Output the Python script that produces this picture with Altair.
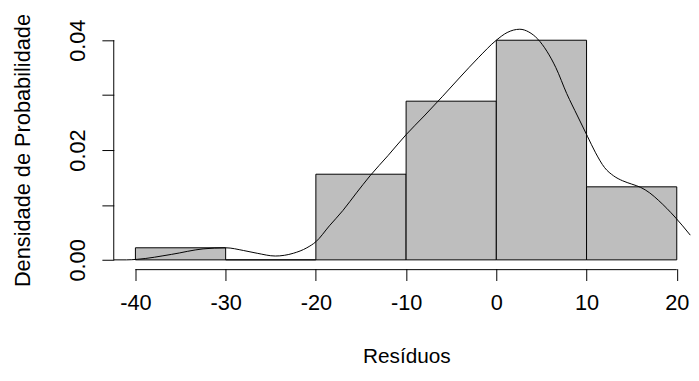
import altair as alt
import pandas as pd

# Histogram bins (Resíduos) and probability densities
bin_start = [-40, -30, -20, -10, 0, 10]
bin_end = [-30, -20, -10, 0, 10, 20]
density = [0.0022, 0.0, 0.0156, 0.0289, 0.0400, 0.0133]

# Kernel density curve
curve_x = [-42.4, -41.0, -39.8, -36.0, -32.5, -30.0, -28.0, -26.5, -24.5, -22.5,
           -21.0, -20.0, -18.5, -17.0, -15.5, -14.0, -12.0, -10.0, -8.0, -6.0,
           -4.0, -2.0, 0.0, 1.2, 2.6, 3.6, 4.6, 5.6, 6.6, 7.8, 9.0, 10.1,
           11.0, 12.0, 13.0, 14.0, 15.0, 16.0, 17.0, 18.0, 19.8, 21.5]
curve_y = [0.0000, 0.0000, 0.0001, 0.0010, 0.0020, 0.0022, 0.0017, 0.0012, 0.0007, 0.0012,
           0.0022, 0.0033, 0.0062, 0.0090, 0.0122, 0.0153, 0.0190, 0.0228, 0.0262, 0.0297,
           0.0333, 0.0368, 0.0400, 0.0414, 0.0420, 0.0415, 0.0402, 0.0380, 0.0350, 0.0303, 0.0262, 0.0225,
           0.0195, 0.0168, 0.0153, 0.0144, 0.0138, 0.0132, 0.0122, 0.0108, 0.0078, 0.0045]

x_ticks = [-40, -30, -20, -10, 0, 10, 20]
y_ticks = [0.0, 0.01, 0.02, 0.03, 0.04]

FONT = "Liberation Sans"
W, H = 576, 240

bars_df = pd.DataFrame({"start": bin_start, "end": bin_end, "density": density,
                        "base": [0.0] * len(bin_start)})
curve_df = pd.DataFrame({"x": curve_x, "y": curve_y})
xaxis_df = pd.DataFrame({"a": [x_ticks[0]], "b": [x_ticks[-1]]})
yaxis_df = pd.DataFrame({"a": [y_ticks[0]], "b": [y_ticks[-1]]})

xscale = alt.Scale(domain=[-42.4, 20.7], nice=False, zero=False)
yscale = alt.Scale(domain=[-0.0016, 0.0416], nice=False, zero=False)

x_axis = alt.Axis(values=x_ticks, domain=False, grid=False, ticks=True, tickSize=12,
                  tickColor="black", tickWidth=1, labelFont=FONT, labelFontSize=22,
                  labelColor="black", labelPadding=12, labelFlush=False, labelOverlap=False,
                  labelExpr="'' + datum.value",
                  title="Resíduos", titleFont=FONT, titleFontSize=21, titleFontWeight="normal",
                  titleColor="black", titleX=296, titleY=95, titleBaseline="alphabetic",
                  titleAlign="center")
y_axis = alt.Axis(values=y_ticks, domain=False, grid=False, ticks=True, tickSize=12,
                  tickColor="black", tickWidth=1, labelFont=FONT, labelFontSize=22,
                  labelColor="black", labelPadding=13, labelFlush=False, labelOverlap=False,
                  labelAngle=270, labelAlign="center", labelBaseline="bottom",
                  labelExpr="(round(datum.value*100) % 2 == 0) ? format(datum.value, '.2f') : ''",
                  title="Densidade de Probabilidade", titleFont=FONT, titleFontSize=22,
                  titleFontWeight="normal", titleColor="black", titleAngle=270,
                  titleX=-85, titleY=120, titleBaseline="alphabetic", titleAlign="center")

bars = alt.Chart(bars_df).mark_rect(fill="#BEBEBE", stroke="black", strokeWidth=1).encode(
    x=alt.X("start:Q", scale=xscale, axis=x_axis),
    x2="end:Q",
    y=alt.Y("base:Q", scale=yscale, axis=y_axis),
    y2="density:Q",
)

curve = alt.Chart(curve_df).mark_line(color="black", strokeWidth=1, interpolate="monotone").encode(
    x=alt.X("x:Q", scale=xscale, axis=x_axis),
    y=alt.Y("y:Q", scale=yscale, axis=y_axis),
)

x_line = alt.Chart(xaxis_df).mark_rule(color="black", strokeWidth=1).encode(
    x=alt.X("a:Q", scale=xscale, axis=x_axis),
    x2="b:Q",
    y=alt.value(H + 1),
)

y_line = alt.Chart(yaxis_df).mark_rule(color="black", strokeWidth=1).encode(
    x=alt.value(0),
    y=alt.Y("a:Q", scale=yscale, axis=y_axis),
    y2="b:Q",
)

chart = alt.layer(bars, curve, x_line, y_line).properties(
    width=W, height=H,
    padding={"left": 107, "top": 21.6, "right": 8, "bottom": 98.4},
    autosize=alt.AutoSizeParams(type="none"),
    background="white",
).configure_view(stroke=None)

chart.save("out.html", embed_options={"renderer": "svg", "actions": False})
